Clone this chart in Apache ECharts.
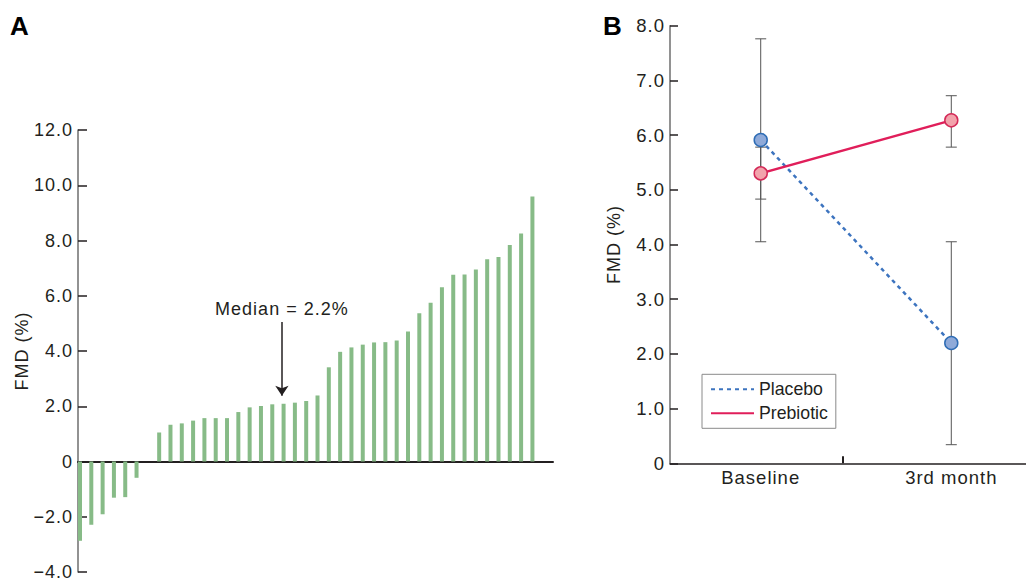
<!DOCTYPE html>
<html>
<head>
<meta charset="utf-8">
<script src="https://cdn.jsdelivr.net/npm/echarts@6/dist/echarts.min.js"></script>
<style>
html,body{margin:0;padding:0;background:#fff;}
#chart{width:1026px;height:581px;}
#chart text[style*="Arial"]{letter-spacing:1px;}
</style>
</head>
<body>
<div id="chart"></div>
<script>
// ---------- Panel A data: individual FMD change (%) sorted ----------
const fmdChange = [-2.87, -2.29, -1.91, -1.31, -1.29, -0.59, 0, 1.05, 1.33, 1.38, 1.48, 1.57, 1.57, 1.57, 1.79, 1.96, 2.01, 2.07, 2.09, 2.13, 2.19, 2.39, 3.41, 3.97, 4.13, 4.23, 4.31, 4.32, 4.38, 4.71, 5.37, 5.75, 6.31, 6.76, 6.77, 6.95, 7.32, 7.40, 7.84, 8.25, 9.59];
const panelAMin = -4, panelAMax = 12, panelAStep = 2;
const medianLabel = 'Median = 2.2%';
const medianArrowX = 18.85;
const medianArrowFrom = 5.05;
const medianArrowTo = 2.38;

// ---------- Panel B data ----------
const timepoints = ['Baseline', '3rd month'];
const placeboMean = [5.91, 2.20];
const placeboLow = [4.05, 0.34];
const placeboHigh = [7.76, 4.05];
const prebioticMean = [5.30, 6.27];
const prebioticLow = [4.83, 5.78];
const prebioticHigh = [5.78, 6.72];
const panelBMin = 0, panelBMax = 8, panelBStep = 1;

const FONT = "Arial, 'Liberation Sans', sans-serif";
const FONT_PLAIN = "'Liberation Sans', sans-serif";
const INK = '#231f20';

function fmtTick(v) { 
  if (v === 0) return '0';
  const s = Math.abs(v).toFixed(1);
  return v < 0 ? '\u2212' + s : s;
}

function errRender(params, api) {
  const x = api.value(0), lo = api.value(1), hi = api.value(2);
  const a = api.coord([x, lo]), b = api.coord([x, hi]);
  const hw = 5.5;
  const st = { stroke: '#555555', lineWidth: 1, fill: null };
  return {
    type: 'group',
    children: [
      { type: 'line', shape: { x1: a[0], y1: a[1], x2: b[0], y2: b[1] }, style: st },
      { type: 'line', shape: { x1: a[0] - hw, y1: a[1], x2: a[0] + hw, y2: a[1] }, style: st },
      { type: 'line', shape: { x1: b[0] - hw, y1: b[1], x2: b[0] + hw, y2: b[1] }, style: st }
    ]
  };
}

const chart = echarts.init(document.getElementById('chart'), null, { renderer: 'svg' });

const option = {
  animation: false,
  backgroundColor: '#ffffff',
  textStyle: { fontFamily: FONT, color: INK },
  title: [
    { text: 'A', left: 10, top: 13, padding: 0, textStyle: { fontFamily: FONT, fontSize: 26, fontWeight: 'bold', color: '#000' } },
    { text: 'B', left: 603, top: 13, padding: 0, textStyle: { fontFamily: FONT, fontSize: 26, fontWeight: 'bold', color: '#000' } }
  ],
  grid: [
    { left: 78, top: 130, width: 475, height: 444 },
    { left: 670, top: 25.7, width: 356, height: 437.6 }
  ],
  xAxis: [
    {
      gridIndex: 0, type: 'value', min: 0.824, max: 42.82,
      axisLine: { show: true, onZero: true, lineStyle: { color: INK, width: 2 } },
      axisTick: { show: false }, axisLabel: { show: false }, splitLine: { show: false }
    },
    {
      gridIndex: 1, type: 'value', min: -0.476, max: 1.392,
      axisLine: { show: true, onZero: false, lineStyle: { color: INK, width: 1.5 } },
      axisTick: { show: true, inside: true, length: 7, customValues: [0.43], lineStyle: { color: INK, width: 2 } },
      axisLabel: {
        show: true, customValues: [0, 1], margin: 5,
        fontFamily: FONT, fontSize: 18.5, color: INK,
        formatter: function (v) { return timepoints[Math.round(v)]; }
      },
      splitLine: { show: false }
    }
  ],
  yAxis: [
    {
      gridIndex: 0, type: 'value', min: panelAMin, max: panelAMax, interval: panelAStep,
      name: 'FMD (%)', nameLocation: 'middle', nameGap: 47, nameRotate: 90,
      nameTextStyle: { fontFamily: FONT, fontSize: 18, color: INK },
      axisLine: { show: true, onZero: false, lineStyle: { color: '#6e6e6e', width: 1.5 } },
      axisTick: { show: true, inside: true, length: 9, lineStyle: { color: INK, width: 1.5 } },
      axisLabel: { margin: 5, fontFamily: FONT, fontSize: 18, color: INK, formatter: fmtTick },
      splitLine: { show: false }
    },
    {
      gridIndex: 1, type: 'value', min: panelBMin, max: panelBMax, interval: panelBStep,
      name: 'FMD (%)', nameLocation: 'middle', nameGap: 47, nameRotate: 90,
      nameTextStyle: { fontFamily: FONT, fontSize: 18, color: INK },
      axisLine: { show: true, onZero: false, lineStyle: { color: '#6e6e6e', width: 1.5 } },
      axisTick: { show: true, inside: true, length: 8, lineStyle: { color: INK, width: 1.5 } },
      axisLabel: { margin: 5, fontFamily: FONT, fontSize: 18.5, color: INK, formatter: fmtTick },
      splitLine: { show: false }
    }
  ],
  legend: {
    data: ['Placebo', 'Prebiotic'],
    orient: 'vertical',
    left: 702, top: 374.3,
    padding: [6, 8, 6, 8],
    itemWidth: 43, itemHeight: 14, itemGap: 6,
    borderColor: '#8a8a8a', borderWidth: 1,
    itemStyle: { opacity: 0 },
    textStyle: { fontFamily: FONT_PLAIN, fontSize: 17.7, color: INK },
    selectedMode: false
  },
  series: [
    {
      type: 'bar', xAxisIndex: 0, yAxisIndex: 0,
      data: fmdChange.map(function (v, i) { return [i + 1, v]; }),
      barWidth: 4,
      itemStyle: { color: '#87bb87' },
      silent: true,
      markLine: {
        silent: true,
        symbol: ['none', 'arrow'],
        symbolSize: 10,
        lineStyle: { color: INK, width: 1.5, type: 'solid' },
        label: { show: true, position: 'start', distance: 4, formatter: medianLabel, fontFamily: FONT, fontSize: 18, color: INK },
        data: [[{ coord: [medianArrowX, medianArrowFrom] }, { coord: [medianArrowX, medianArrowTo] }]]
      }
    },
    {
      type: 'custom', name: 'PlaceboErr', xAxisIndex: 1, yAxisIndex: 1,
      renderItem: errRender, z: 1, silent: true,
      encode: { x: 0, y: [1, 2] },
      data: timepoints.map(function (t, i) { return [i, placeboLow[i], placeboHigh[i]]; })
    },
    {
      type: 'custom', name: 'PrebioticErr', xAxisIndex: 1, yAxisIndex: 1,
      renderItem: errRender, z: 1, silent: true,
      encode: { x: 0, y: [1, 2] },
      data: timepoints.map(function (t, i) { return [i, prebioticLow[i], prebioticHigh[i]]; })
    },
    {
      type: 'line', name: 'Placebo', xAxisIndex: 1, yAxisIndex: 1, z: 3,
      data: timepoints.map(function (t, i) { return [i, placeboMean[i]]; }),
      symbol: 'circle', symbolSize: 13,
      lineStyle: { color: '#3d74bf', width: 2.5, type: [4, 4] },
      itemStyle: { color: '#8faad9', borderColor: '#2f6db5', borderWidth: 1.5 },
      silent: true
    },
    {
      type: 'line', name: 'Prebiotic', xAxisIndex: 1, yAxisIndex: 1, z: 4,
      data: timepoints.map(function (t, i) { return [i, prebioticMean[i]]; }),
      symbol: 'circle', symbolSize: 13,
      lineStyle: { color: '#e01e5a', width: 2.5, type: 'solid' },
      itemStyle: { color: '#f2a3ac', borderColor: '#d42a58', borderWidth: 1.5 },
      silent: true
    }
  ]
};
chart.setOption(option);
</script>
</body>
</html>
